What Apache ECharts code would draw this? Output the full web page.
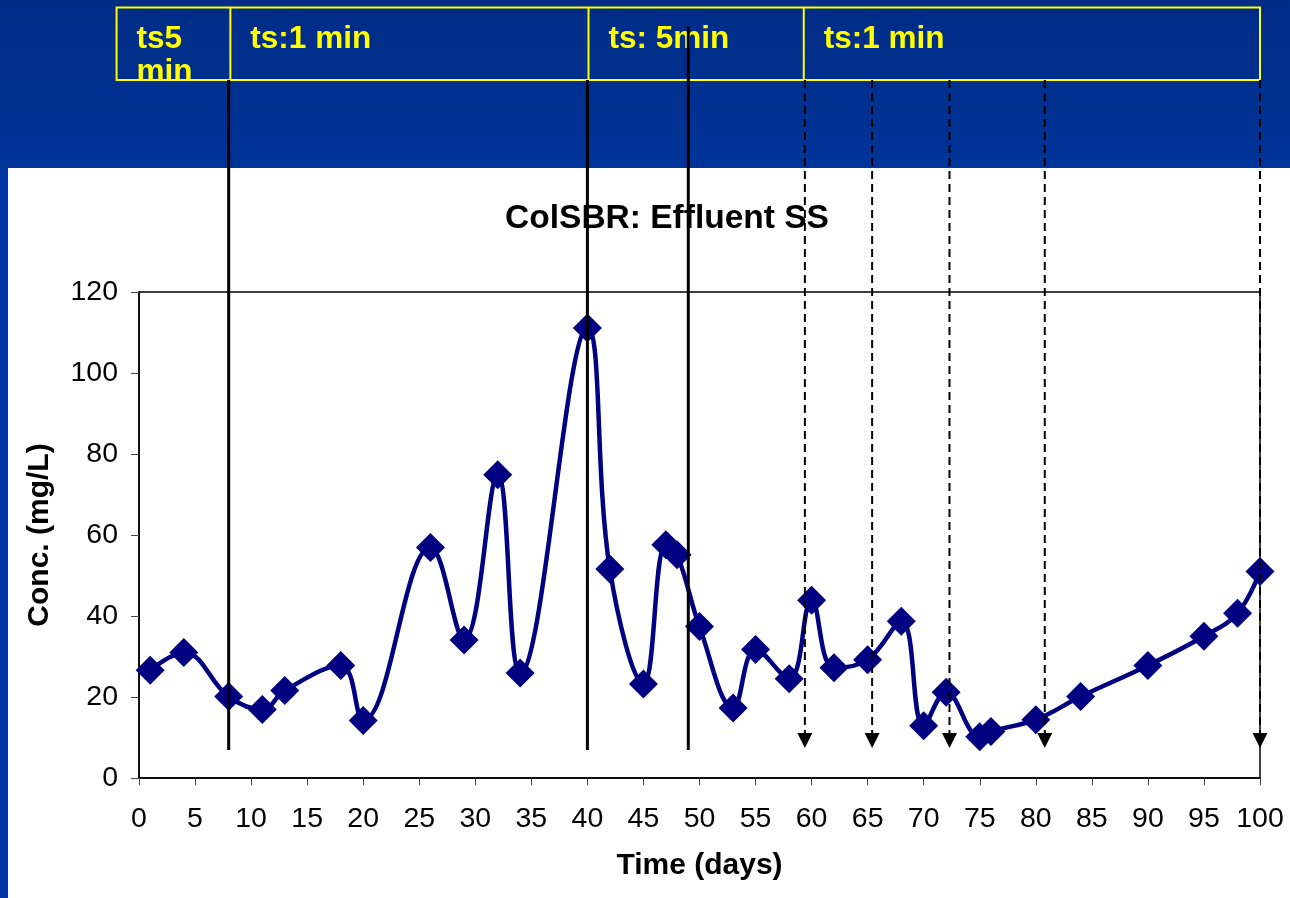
<!DOCTYPE html>
<html>
<head>
<meta charset="utf-8">
<script src="https://cdn.jsdelivr.net/npm/echarts@6/dist/echarts.min.js"></script>
<style>
html,body{margin:0;padding:0;background:#fff;}
#chart{width:1290px;height:898px;}
</style>
</head>
<body>
<div id="chart"></div>
<script>
// ---- data ----
var days = [1, 4, 8, 11, 13, 18, 20, 26, 29, 32, 34, 40, 42, 45, 47, 48, 50, 53, 55, 58, 60, 62, 65, 68, 70, 72, 75, 76, 80, 84, 90, 95, 98, 100];
var conc = [26.6, 31.0, 20.1, 16.9, 21.6, 27.8, 14.2, 56.9, 34.1, 74.9, 25.9, 111.1, 51.6, 23.2, 57.6, 55.1, 37.4, 17.3, 31.7, 24.5, 43.9, 27.2, 29.2, 38.7, 12.9, 21.2, 10.2, 11.5, 14.4, 20.1, 27.8, 35.0, 40.7, 51.0];
var xTicks = [0, 5, 10, 15, 20, 25, 30, 35, 40, 45, 50, 55, 60, 65, 70, 75, 80, 85, 90, 95, 100];
var yTicks = [0, 20, 40, 60, 80, 100, 120];
// time-step periods (banner boxes)
var periodLabels = ['ts5\nmin', 'ts:1 min', 'ts: 5min', 'ts:1 min'];
var periodBounds = [-2, 8.15, 40.1, 59.3, 100];
// event markers (days)
var solidLineDays = [8, 40, 49];
var dashedLineDays = [59.4, 65.4, 72.3, 80.8, 100];

var FONT = '"Liberation Sans", Arial, Helvetica, sans-serif';
var chart = echarts.init(document.getElementById('chart'), null, {renderer: 'canvas'});

var option = {
  backgroundColor: '#ffffff',
  animation: false,
  title: {
    text: 'ColSBR: Effluent SS',
    left: 662,
    top: 197,
    textAlign: 'center',
    textStyle: {fontFamily: FONT, fontWeight: 'bold', fontSize: 33.5, color: '#000'}
  },
  grid: {
    left: 139, right: 30, top: 292, bottom: 120,
    show: true, borderColor: '#000', borderWidth: 1.5, backgroundColor: 'transparent'
  },
  xAxis: {
    type: 'value',
    min: xTicks[0], max: xTicks[xTicks.length - 1], interval: 5,
    name: 'Time (days)', nameLocation: 'middle', nameGap: 73,
    nameTextStyle: {fontFamily: FONT, fontWeight: 'bold', fontSize: 30, color: '#000'},
    axisLine: {show: true, onZero: false, lineStyle: {color: '#000', width: 1.5}},
    axisTick: {show: true, inside: false, length: 7, lineStyle: {color: '#444', width: 1}},
    axisLabel: {fontFamily: FONT, fontSize: 28.5, color: '#000', margin: 27},
    splitLine: {show: false}
  },
  yAxis: {
    type: 'value',
    min: yTicks[0], max: yTicks[yTicks.length - 1], interval: 20,
    name: 'Conc. (mg/L)', nameLocation: 'middle', nameGap: 84, nameRotate: 90,
    nameTextStyle: {fontFamily: FONT, fontWeight: 'bold', fontSize: 30, color: '#000'},
    axisLine: {show: true, lineStyle: {color: '#000', width: 1.5}},
    axisTick: {show: true, inside: false, length: 8, lineStyle: {color: '#444', width: 1}},
    axisLabel: {fontFamily: FONT, fontSize: 28.5, color: '#000', margin: 21},
    splitLine: {show: false}
  },
  series: [{
    type: 'line',
    name: 'Effluent SS',
    data: days.map(function (d, i) { return [d, conc[i]]; }),
    smooth: 0.4,
    symbol: 'diamond',
    symbolSize: 29,
    showSymbol: true,
    lineStyle: {color: '#000080', width: 4.5},
    itemStyle: {color: '#000080'},
    z: 3
  }]
};
chart.setOption(option);

function px(day) { return chart.convertToPixel({xAxisIndex: 0}, day); }

var gr = [];
// blue banner and left strip
gr.push({type: 'rect', z: -10, shape: {x: 0, y: 0, width: 1290, height: 168},
  style: {fill: new echarts.graphic.LinearGradient(0, 0, 0, 1, [{offset: 0, color: '#002c86'}, {offset: 1, color: '#003498'}])}});
gr.push({type: 'rect', z: -10, shape: {x: 0, y: 168, width: 8, height: 730}, style: {fill: '#0034a0'}});

// period boxes
var bx0 = px(periodBounds[0]), bx1 = px(periodBounds[periodBounds.length - 1]);
gr.push({type: 'rect', z: 5, shape: {x: bx0, y: 7.5, width: bx1 - bx0, height: 72.5},
  style: {fill: 'none', stroke: '#ffff00', lineWidth: 2}});
for (var i = 1; i < periodBounds.length - 1; i++) {
  var xb = px(periodBounds[i]);
  gr.push({type: 'line', z: 5, shape: {x1: xb, y1: 7.5, x2: xb, y2: 80}, style: {stroke: '#ffff00', lineWidth: 2}});
}
periodLabels.forEach(function (t, i) {
  gr.push({type: 'text', z: 6, x: px(periodBounds[i]) + 20, y: 23,
    style: {text: t, fill: '#ffff00', font: 'bold 31.5px ' + FONT, lineHeight: 33, verticalAlign: 'top', align: 'left'}});
});

// solid event lines
var solidTops = [80, 80, 27];
solidLineDays.forEach(function (d, i) {
  var x = px(d);
  gr.push({type: 'line', z: 20, shape: {x1: x, y1: solidTops[i], x2: x, y2: 750}, style: {stroke: '#000', lineWidth: 3}});
});
// dashed event lines with arrowheads
dashedLineDays.forEach(function (d) {
  var x = px(d);
  gr.push({type: 'line', z: 20, shape: {x1: x, y1: 80, x2: x, y2: 736}, style: {stroke: '#000', lineWidth: 2, lineDash: [8, 5]}});
  gr.push({type: 'polygon', z: 20, shape: {points: [[x - 7.5, 733], [x + 7.5, 733], [x, 748]]}, style: {fill: '#000'}});
});

chart.setOption({graphic: {elements: gr}});
</script>
</body>
</html>
